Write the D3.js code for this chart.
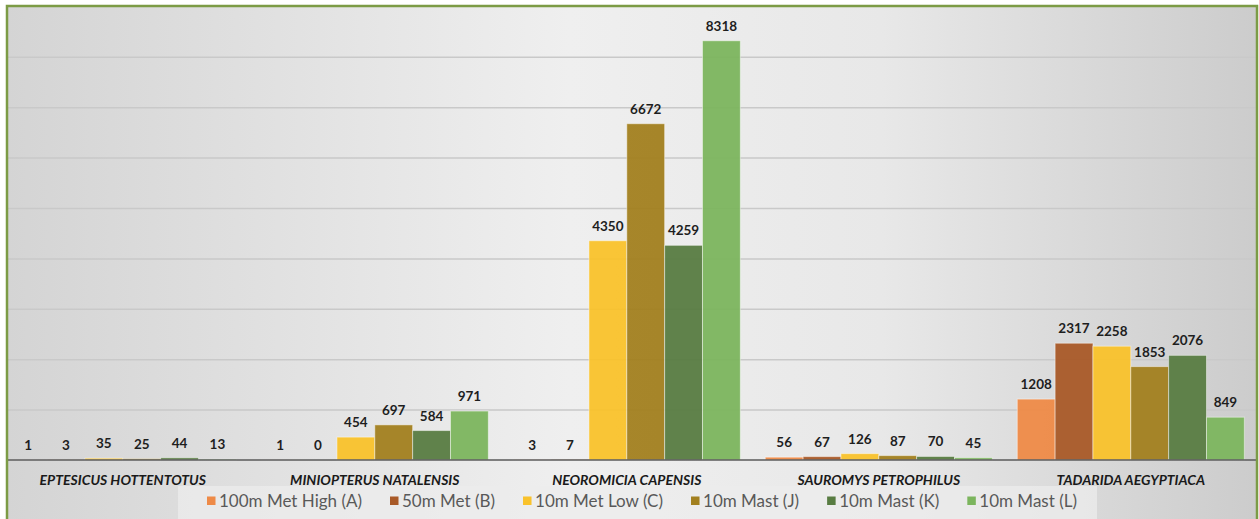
<!DOCTYPE html>
<html>
<head>
<meta charset="utf-8">
<script src="https://cdn.jsdelivr.net/npm/d3@7"></script>
<style>
  html, body { margin: 0; padding: 0; background: #ffffff; }
  svg { display: block; }
</style>
</head>
<body>
<svg id="chart" width="1259" height="519"></svg>
<script>
// Bat species recorded per detector position
const categories = [
  "EPTESICUS HOTTENTOTUS",
  "MINIOPTERUS NATALENSIS",
  "NEOROMICIA CAPENSIS",
  "SAUROMYS PETROPHILUS",
  "TADARIDA AEGYPTIACA"
];
const seriesNames = [
  "100m Met High (A)",
  "50m Met (B)",
  "10m Met Low (C)",
  "10m Mast (J)",
  "10m Mast (K)",
  "10m Mast (L)"
];
const metHighA = [1, 1, 3, 56, 1208];
const met50B   = [3, 0, 7, 67, 2317];
const metLowC  = [35, 454, 4350, 126, 2258];
const mastJ    = [25, 697, 6672, 87, 1853];
const mastK    = [44, 584, 4259, 70, 2076];
const mastL    = [13, 971, 8318, 45, 849];
const seriesValues = [metHighA, met50B, metLowC, mastJ, mastK, mastL];
const seriesColors = ["#EE8A47", "#A95A28", "#F9C22B", "#A2801F", "#587C42", "#7CB55E"];
const yMax = 9000;
const yTickStep = 1000;

const svg = d3.select("#chart");
const font = "Lato, 'Noto Sans', sans-serif";

// frame geometry
const frame = { left: 7, top: 6, right: 1257, bottom: 530 };
const plot = { top: 6.4, bottom: 460, left: -3.2, right: 1256.8 };

const defs = svg.append("defs");
const bg = defs.append("linearGradient").attr("id", "bgGrad")
  .attr("x1", "0%").attr("x2", "100%").attr("y1", "0%").attr("y2", "0%");
bg.append("stop").attr("offset", "0%").attr("stop-color", "#d4d4d4");
bg.append("stop").attr("offset", "45%").attr("stop-color", "#efefef");
bg.append("stop").attr("offset", "70%").attr("stop-color", "#e8e8e8");
bg.append("stop").attr("offset", "100%").attr("stop-color", "#cccccc");

defs.append("clipPath").attr("id", "frameClip")
  .append("rect")
  .attr("x", frame.left).attr("y", frame.top)
  .attr("width", frame.right - frame.left).attr("height", frame.bottom - frame.top);

// background
svg.append("rect")
  .attr("x", frame.left).attr("y", frame.top)
  .attr("width", frame.right - frame.left).attr("height", frame.bottom - frame.top)
  .attr("fill", "url(#bgGrad)");

const g = svg.append("g").attr("clip-path", "url(#frameClip)");

// scales
const x0 = d3.scaleBand()
  .domain(categories)
  .range([plot.left, plot.right])
  .paddingInner(0.099)
  .paddingOuter(0.0495);
const x1 = d3.scaleBand()
  .domain(seriesNames)
  .range([0, x0.bandwidth()])
  .padding(0);
const y = d3.scaleLinear().domain([0, yMax]).range([plot.bottom, plot.top]);

// gridlines
const gridTicks = d3.range(yTickStep, yMax, yTickStep);
g.append("g")
  .attr("transform", `translate(${frame.left},0)`)
  .call(d3.axisLeft(y).tickValues(gridTicks).tickSize(-(frame.right - frame.left)).tickFormat(""))
  .call(a => a.select(".domain").remove())
  .call(a => a.selectAll(".tick line").attr("stroke", "#c9c9c9").attr("stroke-width", 1.5));

// bars
const rows = [];
categories.forEach((c, ci) => {
  seriesNames.forEach((s, si) => {
    rows.push({ cat: c, series: s, value: seriesValues[si][ci], color: seriesColors[si] });
  });
});

const groups = g.selectAll("g.group")
  .data(categories)
  .join("g")
  .attr("class", "group")
  .attr("transform", d => `translate(${x0(d)},0)`);

groups.selectAll("rect")
  .data(c => rows.filter(r => r.cat === c))
  .join("rect")
  .attr("x", d => x1(d.series))
  .attr("width", x1.bandwidth())
  .attr("y", d => y(d.value))
  .attr("height", d => y(0) - y(d.value))
  .attr("fill", d => d.color)
  .attr("fill-opacity", 0.95)
  .attr("stroke", "rgba(255,255,255,0.45)")
  .attr("stroke-width", 1);

// value labels
groups.selectAll("text.val")
  .data(c => rows.filter(r => r.cat === c))
  .join("text")
  .attr("class", "val")
  .attr("x", d => x1(d.series) + x1.bandwidth() / 2)
  .attr("y", d => y(d.value) - 10)
  .attr("text-anchor", "middle")
  .attr("font-family", font)
  .attr("font-weight", 700)
  .attr("font-size", 13.5)
  .attr("fill", "#1e1e1e")
  .text(d => d.value);

// baseline
g.append("line")
  .attr("x1", frame.left).attr("x2", frame.right)
  .attr("y1", y(0)).attr("y2", y(0))
  .attr("stroke", "#5a5a5a").attr("stroke-width", 1.6);

// category labels
g.append("g")
  .attr("transform", `translate(0,${y(0)})`)
  .call(d3.axisBottom(x0).tickSize(0).tickPadding(0))
  .call(a => a.select(".domain").remove())
  .call(a => a.selectAll("text")
    .attr("dy", 0).attr("y", 25)
    .attr("font-family", font)
    .attr("font-weight", 700)
    .attr("font-style", "italic")
    .attr("font-size", 14)
    .attr("fill", "#1a1a1a"));

// legend
g.append("rect")
  .attr("x", 178).attr("y", 486).attr("width", 919).attr("height", 40)
  .attr("fill", "#ececec").attr("fill-opacity", 0.75);

const legend = g.append("g");
let lx = 207;
const ly = 501;
seriesNames.forEach((s, i) => {
  const item = legend.append("g").attr("transform", `translate(${lx},0)`);
  item.append("rect")
    .attr("x", 0).attr("y", ly - 4.5).attr("width", 8.5).attr("height", 8.5)
    .attr("fill", seriesColors[i]);
  const t = item.append("text")
    .attr("x", 12).attr("y", ly).attr("dy", "0.35em")
    .attr("font-family", font)
    .attr("font-size", 17)
    .attr("fill", "#595959")
    .text(s);
  lx += 12 + t.node().getComputedTextLength() + 28;
});

// border
svg.append("rect")
  .attr("x", frame.left).attr("y", frame.top)
  .attr("width", frame.right - frame.left).attr("height", frame.bottom - frame.top)
  .attr("fill", "none")
  .attr("stroke", "#7c9b45")
  .attr("stroke-width", 2.5);
</script>
</body>
</html>
